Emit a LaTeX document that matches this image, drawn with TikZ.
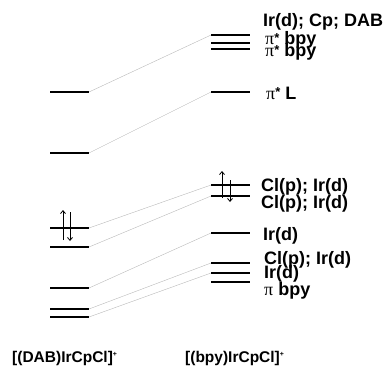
\documentclass[tikz,border=0pt]{standalone}
\usepackage{fontspec}
\setmainfont{Liberation Sans}
\newfontfamily\grk{Liberation Serif}
\usetikzlibrary{arrows.meta}
\newcommand{\pii}{{\mdseries\grk π}}
\newcommand{\myast}{{\fontsize{13}{13}\selectfont\raisebox{2.5pt}{*}}}
\begin{document}
\begin{tikzpicture}[x=1pt,y=-1pt,
  lvl/.style={line width=2pt},
  conn/.style={gray!55,line width=0.4pt},
  lab/.style={anchor=west,inner sep=0pt,font=\fontsize{18}{18}\selectfont\bfseries},
  bot/.style={anchor=west,inner sep=0pt,font=\fontsize{15.5}{16}\selectfont\bfseries},
  spin/.style={line width=0.8pt,-{Straight Barb[length=3pt,width=5pt]}}]
\useasboundingbox (0,0) rectangle (387,375);
% left levels
\foreach \n/\y in {1/92,2/153,3/228,4/247,5/288,6/309,7/317}{
  \coordinate (La\n) at (50,\y); \coordinate (Lb\n) at (89,\y);
  \draw[lvl] (La\n) -- (Lb\n);}
% right levels
\foreach \n/\y in {1/35,2/43,3/49,4/92,5/185,6/196,7/233,8/263,9/273,10/282}{
  \coordinate (Ra\n) at (211,\y); \coordinate (Rb\n) at (250,\y);
  \draw[lvl] (Ra\n) -- (Rb\n);}
% correlation lines
\draw[conn] (Lb1) -- (Ra1);
\draw[conn] (Lb2) -- (Ra4);
\draw[conn] (Lb3) -- (Ra5);
\draw[conn] (Lb4) -- (Ra6);
\draw[conn] (Lb5) -- (Ra7);
\draw[conn] (Lb6) -- (Ra8);
\draw[conn] (Lb7) -- (Ra9);
% electrons
\coordinate (eu1a) at (63,240); \coordinate (eu1b) at (63,210);
\coordinate (ed1a) at (70,212); \coordinate (ed1b) at (70,241);
\draw[spin] (eu1a) -- (eu1b);
\draw[spin] (ed1a) -- (ed1b);
\coordinate (eu2a) at (222,198); \coordinate (eu2b) at (222,171);
\coordinate (ed2a) at (230,180); \coordinate (ed2b) at (230,202);
\draw[spin] (eu2a) -- (eu2b);
\draw[spin] (ed2a) -- (ed2b);
% labels
\node[lab] (t1) at (263,22) {Ir(d); Cp; DAB};
\node[lab] (t2) at (265,40) {\pii\myast{} bpy};
\node[lab] (t3) at (265,52) {\pii\myast{} bpy};
\node[lab] (t4) at (266,93) {\pii\myast{} L};
\node[lab] (t5) at (261,187) {Cl(p); Ir(d)};
\node[lab] (t6) at (261,204) {Cl(p); Ir(d)};
\node[lab] (t7) at (263,236) {Ir(d)};
\node[lab] (t8) at (264,260) {Cl(p); Ir(d)};
\node[lab] (t9) at (264,274) {Ir(d)};
\node[lab] (t10) at (264,291) {\pii{} bpy};
\node[bot] (b1) at (12,358) {[(DAB)IrCpCl]\textsuperscript{\scriptsize+}};
\node[bot] (b2) at (185,358) {[(bpy)IrCpCl]\textsuperscript{\scriptsize+}};
\end{tikzpicture}
\end{document}
